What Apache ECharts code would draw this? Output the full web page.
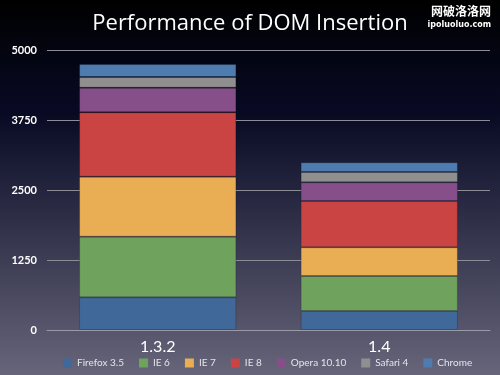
<!DOCTYPE html>
<html>
<head>
<meta charset="utf-8">
<script src="https://cdn.jsdelivr.net/npm/echarts@6/dist/echarts.min.js"></script>
<style>
  html, body { margin: 0; padding: 0; }
  #main { width: 500px; height: 375px; }
</style>
</head>
<body>
<div id="main"></div>
<script>
// 数据
const versions = ['1.3.2', '1.4'];
const browsers = ['Firefox 3.5', 'IE 6', 'IE 7', 'IE 8', 'Opera 10.10', 'Safari 4', 'Chrome'];
const firefox = [583, 339];
const ie6 = [1084, 625];
const ie7 = [1071, 513];
const ie8 = [1150, 827];
const opera = [439, 334];
const safari = [191, 184];
const chrome = [232, 173];
const yTicks = [0, 1250, 2500, 3750, 5000];

const colors = ['#40699a', '#6ea25d', '#e9ad54', '#c94442', '#864f8a', '#8f8f90', '#4e7cb0'];
const values = [firefox, ie6, ie7, ie8, opera, safari, chrome];

let myChart = echarts.init(document.getElementById('main'));
myChart.setOption({
  animation: false,
  backgroundColor: new echarts.graphic.LinearGradient(0, 0, 0, 1, [
    { offset: 0, color: '#000000' },
    { offset: 0.3, color: '#080a24' },
    { offset: 0.65, color: '#37374f' },
    { offset: 1, color: '#66657a' }
  ]),
  textStyle: { fontFamily: 'Lato' },
  title: {
    text: 'Performance of DOM Insertion',
    left: 'center',
    top: 8,
    textStyle: { color: '#ffffff', fontSize: 22, fontWeight: 'normal', fontFamily: 'Open Sans' }
  },
  graphic: [
    {
      type: 'text', right: 8, top: 4,
      style: { text: '网破洛洛网', fill: '#ffffff', stroke: '#000', lineWidth: 2, font: 'bold 12px "Noto Sans CJK SC"' }
    },
    {
      type: 'text', right: 8, top: 20,
      style: { text: 'ipoluoluo.com', fill: '#ffffff', stroke: '#000', lineWidth: 2, font: 'bold 8px "DejaVu Sans"' }
    }
  ],
  legend: {
    bottom: 2,
    left: 58,
    itemWidth: 9,
    itemHeight: 9,
    itemGap: 15,
    icon: 'rect',
    itemStyle: { borderWidth: 0 },
    textStyle: { color: '#e4e4e8', fontSize: 10, fontFamily: 'Lato' },
    data: browsers
  },
  grid: { left: 47, right: 10, top: 50, bottom: 45 },
  xAxis: {
    type: 'category',
    data: versions,
    axisLine: { lineStyle: { color: '#9a9aa6', width: 1 } },
    axisTick: { show: false },
    axisLabel: { color: '#ffffff', fontSize: 16, margin: 9, fontFamily: 'Lato' }
  },
  yAxis: {
    type: 'value',
    min: yTicks[0],
    max: yTicks[yTicks.length - 1],
    interval: 1250,
    axisLine: { show: false },
    axisTick: { show: false },
    axisLabel: { color: '#ffffff', fontSize: 11, fontWeight: 'bold', margin: 10, fontFamily: 'Lato', formatter: v => String(v) },
    splitLine: { lineStyle: { color: '#8c8c98', width: 1 } }
  },
  series: browsers.map((name, i) => ({
    name: name,
    type: 'bar',
    stack: 'total',
    barWidth: '71%',
    data: values[i],
    itemStyle: { color: colors[i], borderColor: 'rgba(0,0,0,0.18)', borderWidth: 1 }
  }))
});
</script>
</body>
</html>
